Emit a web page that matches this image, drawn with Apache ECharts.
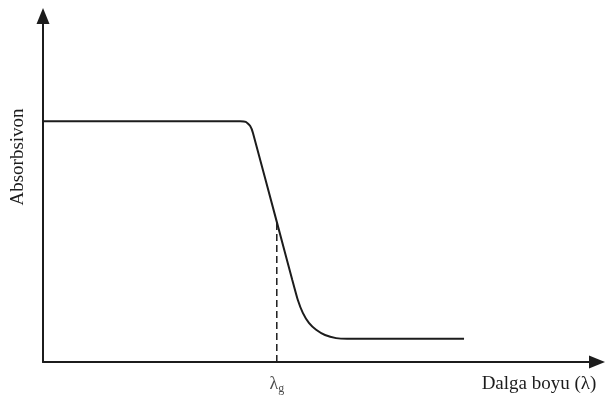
<!DOCTYPE html>
<html>
<head>
    <meta charset="utf-8">
    <title>Absorbsivon</title>
    <script src="https://cdn.jsdelivr.net/npm/echarts@6/dist/echarts.min.js"></script>
    <style>
        html, body { margin: 0; padding: 0; background: #fff; }
        #main { width: 605px; height: 412px; }
    </style>
</head>
<body>
<div id="main"></div>
<script type="text/javascript">
    // wavelength (arbitrary units) and absorption values
    var wavelength = [0, 35.6, 36.6, 37.4, 37.9, 42.2, 45.0, 46.0, 46.9, 48.0, 49.3, 50.9, 52.9, 54.9, 76.0];
    var absorption = [69.6, 69.6, 69.4, 68.2, 66.2, 40.5, 23.7, 17.9, 14.2, 11.3, 9.3, 7.8, 6.9, 6.7, 6.7];
    var lambdaG = 42.2;
    var lambdaGAbs = 40.5;

    var curve = wavelength.map(function (x, i) { return [x, absorption[i]]; });

    var myChart = echarts.init(document.getElementById('main'));
    var ink = '#1c1c1c';
    var serif = '"Liberation Serif", "DejaVu Serif", serif';

    var option = {
        backgroundColor: '#fff',
        animation: false,
        grid: { left: 43, right: 8, top: 16, bottom: 50 },
        xAxis: {
            type: 'value', min: 0, max: 100,
            axisLine: { show: true, symbol: ['none', 'triangle'], symbolSize: [13, 16], lineStyle: { color: ink, width: 2 } },
            axisTick: { show: false }, axisLabel: { show: false }, splitLine: { show: false }
        },
        yAxis: {
            type: 'value', min: 0, max: 100,
            axisLine: { show: true, symbol: ['none', 'triangle'], symbolSize: [13, 16], lineStyle: { color: ink, width: 2 } },
            axisTick: { show: false }, axisLabel: { show: false }, splitLine: { show: false }
        },
        series: [
            {
                type: 'line',
                data: curve,
                showSymbol: false,
                smooth: 0.15,
                lineStyle: { color: ink, width: 2 }
            },
            {
                type: 'line',
                data: [[lambdaG, 0], [lambdaG, lambdaGAbs]],
                showSymbol: false,
                lineStyle: { color: ink, width: 1.5, type: [7, 4] }
            },
            {
                type: 'scatter',
                data: [[lambdaG, 0]],
                symbolSize: 0,
                label: {
                    show: true,
                    position: 'bottom',
                    distance: 12,
                    fontFamily: serif,
                    fontSize: 18,
                    color: ink,
                    formatter: '{l|λ}{s|g}',
                    rich: {
                        l: { fontFamily: serif, fontSize: 18, color: ink },
                        s: { fontFamily: serif, fontSize: 12, color: ink, padding: [9, 0, 0, 0] }
                    }
                }
            }
        ],
        graphic: [
            {
                type: 'text', x: 18, y: 157, rotation: Math.PI / 2,
                style: { text: 'Absorbsivon', fontFamily: serif, fontSize: 19, fill: ink, align: 'center', verticalAlign: 'middle' }
            },
            {
                type: 'text', x: 539, y: 384,
                style: { text: 'Dalga boyu (λ)', fontFamily: serif, fontSize: 19, fill: ink, align: 'center', verticalAlign: 'middle' }
            }
        ]
    };
    myChart.setOption(option);
    window.onresize = myChart.resize;
</script>
</body>
</html>
